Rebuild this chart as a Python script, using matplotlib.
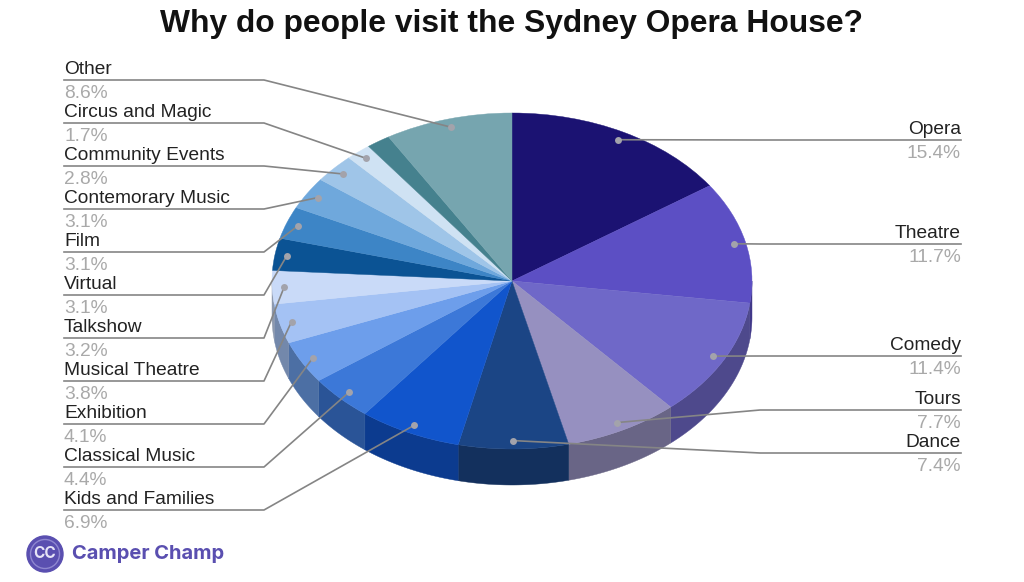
import numpy as np
import matplotlib
matplotlib.use("Agg")
import matplotlib.pyplot as plt
from matplotlib.patches import Circle

plt.rcParams['font.family'] = ['Liberation Sans', 'DejaVu Sans']

# slices clockwise from the top, one slice has no label in the original
categories = ["Opera", "Theatre", "Comedy", "Tours", "Dance", "Kids and Families",
              "Classical Music", "Exhibition", "Musical Theatre", "Talkshow", "Virtual",
              "Film", "Contemorary Music", "Community Events", "Circus and Magic", "", "Other"]
values = [15.4, 11.7, 11.4, 7.7, 7.4, 6.9, 4.4, 4.1, 3.8, 3.2, 3.1, 3.1, 3.1, 2.8, 1.7, 1.6, 8.6]
colors = ["#1b1272", "#5c4fc4", "#6f68c8", "#9690c0", "#1b4585", "#1155cc", "#3c78d8",
          "#6d9eeb", "#a4c2f4", "#c9daf8", "#0b5394", "#3d85c6", "#6fa8dc", "#9fc5e8",
          "#cfe2f3", "#45818e", "#76a5af"]

# pixel height of each label's rule
left_rules = {"Other": 80, "Circus and Magic": 123, "Community Events": 166, "Contemorary Music": 209,
              "Film": 252, "Virtual": 295, "Talkshow": 338, "Musical Theatre": 381,
              "Exhibition": 424, "Classical Music": 467, "Kids and Families": 510}
right_rules = {"Opera": 140, "Theatre": 244, "Comedy": 356, "Tours": 410, "Dance": 453}

W, H = 1024, 582
cx, cy, rx, ry, depth = 512, 281, 240, 168, 36

fig = plt.figure(figsize=(W / 100, H / 100), dpi=100)

# pie axes: unit circle gets stretched to the ellipse
pie_ax = fig.add_axes([0, 0, 1, 1])
wedges, _ = pie_ax.pie(values, colors=colors, startangle=90, counterclock=False, radius=1)
for w in wedges:
    w.set_edgecolor(w.get_facecolor())
    w.set_linewidth(0.3)
pie_ax.set_aspect('auto')
pie_ax.set_xlim(-cx / rx, (W - cx) / rx)
pie_ax.set_ylim((cy - H) / ry, cy / ry)
pie_ax.axis('off')

# side wall, only the front half shows
edges = np.cumsum([0] + values) / 100 * 360
drop = depth / ry
for start, end, col in zip(edges[:-1], edges[1:], colors):
    a, b = max(start, 90), min(end, 270)
    if b <= a:
        continue
    t = np.radians(np.linspace(a, b, 60))
    x, y = np.sin(t), np.cos(t)
    rgb = np.array(matplotlib.colors.to_rgb(col)) * 0.7
    pie_ax.fill(np.r_[x, x[::-1]], np.r_[y, y[::-1] - drop], color=tuple(rgb), lw=0.3, zorder=0.5)

# overlay in pixel coordinates for labels and leaders
ax = fig.add_axes([0, 0, 1, 1])
ax.set_xlim(0, W)
ax.set_ylim(H, 0)
ax.axis('off')
ax.patch.set_alpha(0)

mids = (edges[:-1] + edges[1:]) / 2
line_col = "#858585"
for name, val, mid in zip(categories, values, mids):
    if not name:
        continue
    t = np.radians(mid)
    dx = cx + 0.95 * rx * np.sin(t)
    dy = cy - 0.95 * ry * np.cos(t)
    if name in left_rules:
        y = left_rules[name]
        ax.plot([64, 264, dx], [y, y, dy], color=line_col, lw=1.2, solid_joinstyle='round')
        tx, ha = 64, 'left'
    else:
        y = right_rules[name]
        ax.plot([961, 760, dx], [y, y, dy], color=line_col, lw=1.2, solid_joinstyle='round')
        tx, ha = 961, 'right'
    ax.plot(dx, dy, 'o', ms=5, color="#a3a3ab", mew=0)
    ax.text(tx, y - 6, name, ha=ha, va='baseline', fontsize=13.8, color="#222222")
    ax.text(tx, y + 18, "%.1f%%" % val, ha=ha, va='baseline', fontsize=13.8, color="#a9a9a9")

ax.text(512, 24, "Why do people visit the Sydney Opera House?", ha='center', va='center',
        fontsize=22.9, fontweight='bold', color="#111111")

# logo
ax.add_patch(Circle((45, 554), 18, color="#5a4fb0"))
ax.add_patch(Circle((45, 554), 14.5, fill=False, ec="#8f87d0", lw=1))
ax.text(45, 554, "CC", ha='center', va='center', fontsize=11, fontweight='bold',
        color="#e6e4f6", family='Inter')
ax.text(72, 554, "Camper Champ", ha='left', va='center', fontsize=14.5, fontweight='bold',
        color="#5a4fb0", family='Inter')

fig.savefig("out.png", dpi=100)
